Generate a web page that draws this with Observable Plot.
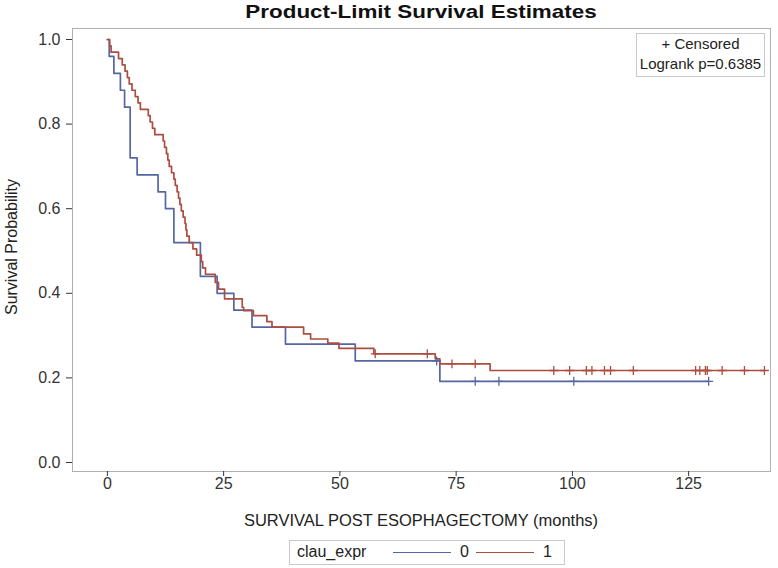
<!DOCTYPE html>
<html><head><meta charset="utf-8">
<script src="https://cdn.jsdelivr.net/npm/d3@7"></script>
<script src="https://cdn.jsdelivr.net/npm/@observablehq/plot@0.6"></script>
<style>
body{margin:0;background:#fff;font-family:"Liberation Sans",Arial,sans-serif;color:#222;}
#wrap{position:relative;width:778px;height:568px;overflow:hidden;}
#title{position:absolute;left:421px;top:1px;transform:translateX(-50%) scaleX(1.18);white-space:nowrap;font-weight:bold;font-size:19px;color:#111;}
#chart{position:absolute;left:0;top:24px;}
#ylab{position:absolute;left:12px;top:247px;transform:translate(-50%,-50%) rotate(-90deg);white-space:nowrap;font-size:16px;}
#xlab{position:absolute;left:421px;top:512px;transform:translateX(-50%) scaleX(1.03);white-space:nowrap;font-size:16px;}
#inset{position:absolute;left:636px;top:33px;width:127px;height:42px;border:1px solid #c8c8c8;text-align:center;font-size:15px;line-height:20px;color:#222;}
#legend{position:absolute;left:289px;top:540px;width:274px;height:23px;border:1px solid #c8c8c8;font-size:16px;}
#legend span{position:absolute;top:2px;}
#legend .ln{position:absolute;top:11px;height:0;border-top:1.6px solid;}
</style></head>
<body><div id="wrap">
<div id="title">Product-Limit Survival Estimates</div>
<div id="chart"></div>
<div id="ylab">Survival Probability</div>
<div id="xlab">SURVIVAL POST ESOPHAGECTOMY (months)</div>
<div id="inset">+ Censored<br>Logrank p=0.6385</div>
<div id="legend"></div>
</div>
<script>
// clau_expr = 0
const blueTimes = [0, 0.4, 1.4, 2.8, 3.7, 4.9, 6.4, 10.9, 12.5, 14.3, 20.0, 23.6, 27.2, 31.1, 38.3, 53.3, 71.5];
const blueSurv  = [1, 0.96, 0.92, 0.88, 0.84, 0.72, 0.68, 0.64, 0.60, 0.52, 0.44, 0.40, 0.36, 0.32, 0.28, 0.24, 0.192];
const blueCensor = [70.8, 79.1, 84.2, 100.3, 129.3];
const blueEnd = 129.3;
// clau_expr = 1
const redTimes = [0, 0.5, 0.8, 2.4, 3.2, 3.8, 4.3, 4.7, 5.3, 6.0, 6.6, 7.1, 8.8, 9.2, 9.7, 10.2, 12.0, 12.3, 12.7, 13.0, 13.3, 13.8, 14.3, 14.6, 15.0, 15.3, 15.6, 15.9, 16.3, 16.7, 16.9, 17.1, 17.6, 18.4, 19.2, 20.2, 20.5, 21.1, 23.2, 23.9, 25.2, 29.0, 29.3, 31.4, 34.3, 35.4, 42.2, 43.7, 47.4, 49.8, 57.3, 70.5, 71.5, 82.3];
const redSurv  = [1, 0.985, 0.97, 0.955, 0.94, 0.925, 0.91, 0.895, 0.88, 0.865, 0.85, 0.835, 0.82, 0.805, 0.79, 0.775, 0.76, 0.745, 0.73, 0.715, 0.70, 0.685, 0.67, 0.655, 0.64, 0.625, 0.61, 0.595, 0.58, 0.565, 0.55, 0.535, 0.52, 0.505, 0.49, 0.475, 0.46, 0.445, 0.426, 0.41, 0.387, 0.367, 0.359, 0.347, 0.333, 0.32, 0.304, 0.292, 0.282, 0.27, 0.257, 0.245, 0.233, 0.2175];
const redCensor = [57.6, 68.8, 74.1, 79.1, 96.0, 99.4, 103.0, 104.2, 106.9, 108.2, 113.1, 126.5, 127.4, 128.6, 129.0, 132.2, 137.0, 141.3];
const redEnd = 141.3;

const groups = ["0", "1"];
const colors = ["#5566a3", "#ad4d3f"];
const xTicks = [0, 25, 50, 75, 100, 125];
const yTicks = [0, 0.2, 0.4, 0.6, 0.8, 1.0];

function steps(times, surv, end, g) {
  const d = times.map((t, i) => ({t, s: surv[i], g}));
  d.push({t: end, s: surv[surv.length - 1], g});
  return d;
}
function censorPts(cs, times, surv, g) {
  return cs.map(c => {
    let s = surv[0];
    for (let i = 0; i < times.length; i++) if (times[i] <= c) s = surv[i];
    return {t: c, s, g};
  });
}
const lines = [...steps(blueTimes, blueSurv, blueEnd, "0"), ...steps(redTimes, redSurv, redEnd, "1")];
const cens = [...censorPts(blueCensor, blueTimes, blueSurv, "0"), ...censorPts(redCensor, redTimes, redSurv, "1")];

const plusSymbol = {
  draw(ctx, size) {
    const r = Math.sqrt(size) / 2;
    ctx.moveTo(-r, 0); ctx.lineTo(r, 0);
    ctx.moveTo(0, -r); ctx.lineTo(0, r);
  }
};

const chart = Plot.plot({
  width: 778, height: 516,
  marginTop: 4, marginBottom: 69, marginLeft: 72, marginRight: 8,
  style: {fontFamily: "Liberation Sans, Arial, sans-serif", fontSize: "16px", color: "#222", background: "#fff"},
  x: {domain: [-7.5, 142.6]},
  y: {domain: [-0.0213, 1.026]},
  color: {domain: groups, range: colors},
  marks: [
    Plot.frame({stroke: "#b0b0b0"}),
    Plot.axisX({ticks: xTicks, tickSize: 5, tickPadding: 1, tickFormat: d => String(d), label: null, color: "#333"}),
    Plot.axisY({ticks: yTicks, tickSize: 6, tickPadding: 6, tickFormat: d3.format(".1f"), label: null, color: "#333"}),
    Plot.line(lines, {x: "t", y: "s", z: "g", stroke: "g", curve: "step-after", strokeWidth: 1.7}),
    Plot.dot(cens, {x: "t", y: "s", stroke: "g", symbol: plusSymbol, r: 5, strokeWidth: 1.3, fill: "none"})
  ]
});
document.getElementById("chart").appendChild(chart);

const leg = document.getElementById("legend");
leg.innerHTML = '<span style="left:7px">clau_expr</span>' +
  groups.map((g, i) => {
    const x0 = 103 + i * 83;
    return `<div class="ln" style="left:${x0}px;width:58px;border-color:${colors[i]}"></div>` +
           `<span style="left:${x0 + 67}px">${g}</span>`;
  }).join("");
</script>
</body></html>
